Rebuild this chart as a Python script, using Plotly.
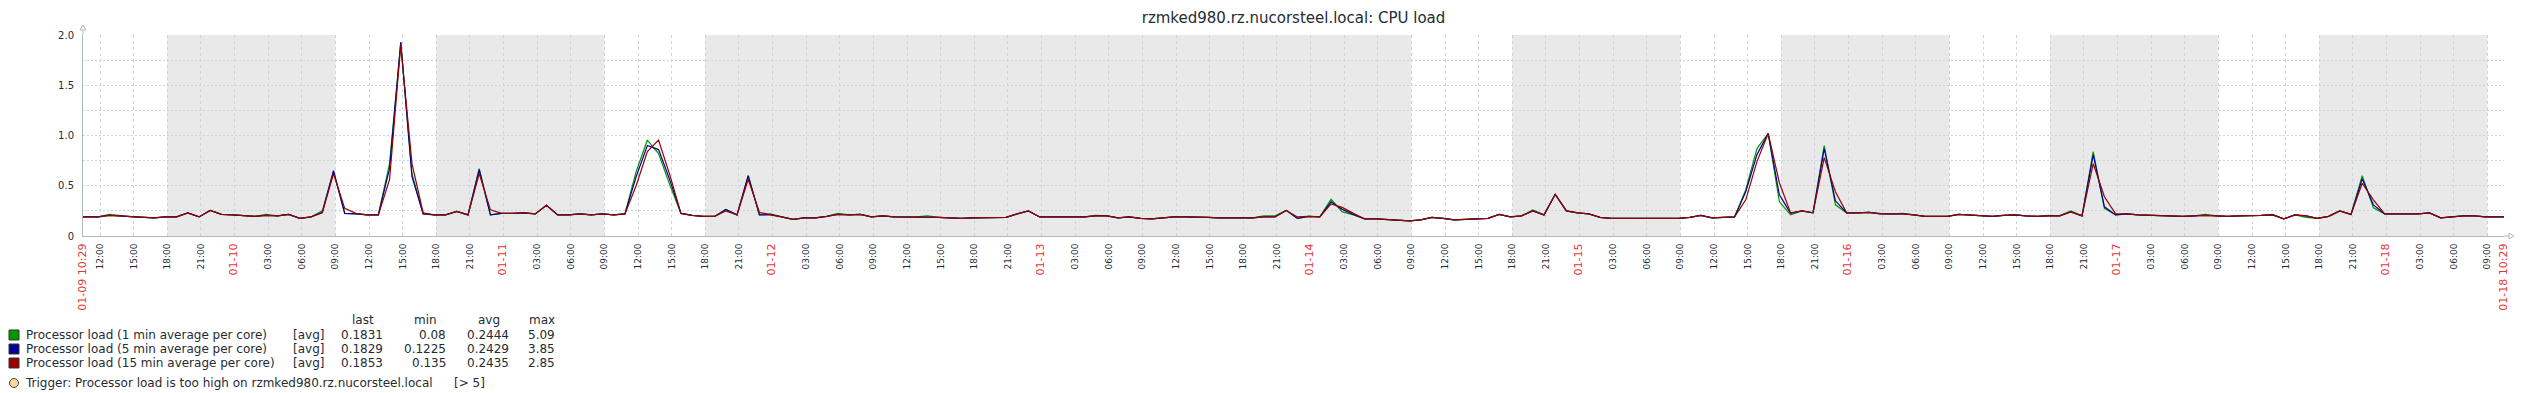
import plotly.graph_objects as go
import pandas as pd

# ---------------- data ----------------
title_text = "rzmked980.rz.nucorsteel.local: CPU load"
range_start = "2019-01-09 10:29"
range_end = "2019-01-18 10:29"
sample_start = "2019-01-09 09:50"   # hourly trend samples

load_1min = [
    0.19, 0.19, 0.19, 0.215, 0.20, 0.19, 0.185, 0.18, 0.19, 0.19,
    0.23, 0.19, 0.255, 0.215, 0.21, 0.20, 0.195, 0.215, 0.20, 0.215,
    0.175, 0.19, 0.25, 0.64, 0.225, 0.22, 0.21, 0.21, 0.72, 1.92,
    0.62, 0.22, 0.21, 0.21, 0.245, 0.21, 0.67, 0.21, 0.225, 0.225,
    0.23, 0.22, 0.305, 0.21, 0.21, 0.22, 0.21, 0.22, 0.21, 0.22,
    0.64, 0.955, 0.82, 0.51, 0.225, 0.205, 0.195, 0.195, 0.265, 0.21,
    0.60, 0.21, 0.22, 0.19, 0.165, 0.18, 0.18, 0.195, 0.225, 0.21,
    0.215, 0.19, 0.20, 0.19, 0.19, 0.19, 0.20, 0.185, 0.18, 0.175,
    0.18, 0.18, 0.18, 0.185, 0.22, 0.25, 0.19, 0.19, 0.185, 0.19,
    0.19, 0.205, 0.20, 0.18, 0.19, 0.175, 0.17, 0.18, 0.19, 0.19,
    0.19, 0.185, 0.18, 0.18, 0.18, 0.18, 0.20, 0.20, 0.255, 0.175,
    0.195, 0.19, 0.365, 0.24, 0.21, 0.17, 0.17, 0.165, 0.155, 0.15,
    0.16, 0.185, 0.175, 0.16, 0.165, 0.17, 0.175, 0.215, 0.19, 0.20,
    0.26, 0.21, 0.415, 0.25, 0.23, 0.22, 0.185, 0.175, 0.175, 0.175,
    0.17, 0.17, 0.175, 0.175, 0.185, 0.205, 0.18, 0.185, 0.19, 0.46,
    0.87, 1.02, 0.34, 0.21, 0.25, 0.23, 0.90, 0.31, 0.23, 0.23,
    0.235, 0.225, 0.22, 0.225, 0.21, 0.195, 0.195, 0.195, 0.215, 0.21,
    0.205, 0.195, 0.205, 0.21, 0.20, 0.195, 0.205, 0.20, 0.25, 0.20,
    0.84, 0.275, 0.21, 0.22, 0.21, 0.205, 0.20, 0.20, 0.195, 0.20,
    0.215, 0.20, 0.195, 0.20, 0.20, 0.205, 0.215, 0.17, 0.21, 0.185,
    0.175, 0.195, 0.25, 0.215, 0.60, 0.28, 0.22, 0.22, 0.22, 0.22,
    0.23, 0.18, 0.19, 0.20, 0.20, 0.19, 0.19, 0.19,
]

load_5min = [
    0.19, 0.19, 0.19, 0.205, 0.20, 0.19, 0.185, 0.18, 0.19, 0.19,
    0.23, 0.19, 0.255, 0.215, 0.21, 0.20, 0.195, 0.205, 0.20, 0.215,
    0.175, 0.19, 0.235, 0.65, 0.225, 0.22, 0.21, 0.21, 0.67, 1.93,
    0.59, 0.22, 0.21, 0.21, 0.245, 0.21, 0.66, 0.21, 0.225, 0.225,
    0.23, 0.22, 0.305, 0.21, 0.21, 0.22, 0.21, 0.22, 0.21, 0.22,
    0.59, 0.90, 0.86, 0.56, 0.225, 0.205, 0.195, 0.195, 0.265, 0.21,
    0.60, 0.21, 0.21, 0.19, 0.165, 0.18, 0.18, 0.195, 0.215, 0.21,
    0.215, 0.19, 0.20, 0.19, 0.19, 0.19, 0.19, 0.185, 0.18, 0.175,
    0.18, 0.18, 0.18, 0.185, 0.22, 0.25, 0.19, 0.19, 0.185, 0.19,
    0.19, 0.20, 0.20, 0.18, 0.19, 0.175, 0.17, 0.18, 0.19, 0.19,
    0.19, 0.185, 0.18, 0.18, 0.18, 0.18, 0.19, 0.19, 0.255, 0.175,
    0.195, 0.19, 0.34, 0.265, 0.215, 0.17, 0.17, 0.165, 0.155, 0.15,
    0.16, 0.185, 0.175, 0.16, 0.165, 0.17, 0.175, 0.215, 0.19, 0.20,
    0.25, 0.21, 0.415, 0.25, 0.23, 0.22, 0.185, 0.175, 0.175, 0.175,
    0.17, 0.17, 0.175, 0.175, 0.185, 0.205, 0.18, 0.185, 0.19, 0.44,
    0.81, 1.02, 0.41, 0.225, 0.25, 0.23, 0.87, 0.35, 0.23, 0.23,
    0.235, 0.22, 0.22, 0.22, 0.21, 0.195, 0.195, 0.195, 0.215, 0.21,
    0.205, 0.195, 0.205, 0.21, 0.20, 0.195, 0.20, 0.20, 0.24, 0.20,
    0.81, 0.29, 0.21, 0.22, 0.21, 0.205, 0.20, 0.20, 0.195, 0.20,
    0.205, 0.20, 0.195, 0.20, 0.20, 0.205, 0.21, 0.17, 0.21, 0.20,
    0.175, 0.195, 0.25, 0.215, 0.57, 0.31, 0.22, 0.22, 0.22, 0.22,
    0.23, 0.18, 0.19, 0.20, 0.20, 0.19, 0.19, 0.19,
]

load_15min = [
    0.19, 0.19, 0.19, 0.205, 0.20, 0.19, 0.185, 0.18, 0.19, 0.19,
    0.23, 0.19, 0.255, 0.215, 0.21, 0.20, 0.195, 0.205, 0.20, 0.215,
    0.175, 0.19, 0.23, 0.62, 0.275, 0.225, 0.21, 0.21, 0.56, 1.90,
    0.72, 0.23, 0.21, 0.21, 0.245, 0.21, 0.62, 0.26, 0.225, 0.225,
    0.23, 0.22, 0.305, 0.21, 0.21, 0.22, 0.21, 0.22, 0.21, 0.22,
    0.50, 0.84, 0.955, 0.61, 0.225, 0.205, 0.195, 0.195, 0.25, 0.21,
    0.565, 0.235, 0.21, 0.19, 0.165, 0.18, 0.18, 0.195, 0.215, 0.21,
    0.215, 0.19, 0.20, 0.19, 0.19, 0.19, 0.19, 0.185, 0.18, 0.175,
    0.18, 0.18, 0.18, 0.185, 0.22, 0.25, 0.19, 0.19, 0.185, 0.19,
    0.19, 0.20, 0.20, 0.18, 0.19, 0.175, 0.17, 0.18, 0.19, 0.19,
    0.19, 0.185, 0.18, 0.18, 0.18, 0.18, 0.19, 0.19, 0.255, 0.19,
    0.195, 0.19, 0.32, 0.285, 0.225, 0.17, 0.17, 0.165, 0.155, 0.15,
    0.16, 0.185, 0.175, 0.16, 0.165, 0.17, 0.175, 0.215, 0.19, 0.20,
    0.25, 0.21, 0.415, 0.25, 0.23, 0.22, 0.185, 0.175, 0.175, 0.175,
    0.17, 0.17, 0.175, 0.175, 0.185, 0.205, 0.18, 0.185, 0.19, 0.36,
    0.74, 1.02, 0.53, 0.23, 0.25, 0.23, 0.78, 0.44, 0.23, 0.23,
    0.235, 0.22, 0.22, 0.22, 0.21, 0.195, 0.195, 0.195, 0.215, 0.21,
    0.205, 0.195, 0.205, 0.21, 0.20, 0.195, 0.20, 0.20, 0.24, 0.20,
    0.72, 0.39, 0.22, 0.22, 0.21, 0.205, 0.20, 0.20, 0.195, 0.20,
    0.205, 0.20, 0.195, 0.20, 0.20, 0.205, 0.21, 0.17, 0.21, 0.20,
    0.175, 0.195, 0.25, 0.215, 0.525, 0.36, 0.22, 0.22, 0.22, 0.22,
    0.23, 0.18, 0.19, 0.20, 0.20, 0.19, 0.19, 0.19,
]

series_names = [
    "Processor load (1 min average per core)",
    "Processor load (5 min average per core)",
    "Processor load (15 min average per core)",
]
series_colors = ["#009900", "#000099", "#990000"]
stat_last = ["0.1831", "0.1829", "0.1853"]
stat_min = ["0.08", "0.1225", "0.135"]
stat_avg = ["0.2444", "0.2429", "0.2435"]
stat_max = ["5.09", "3.85", "2.85"]
trigger_text = "Trigger: Processor load is too high on rzmked980.rz.nucorsteel.local"
trigger_cond = "[> 5]"

# non-working periods (shaded)
nonwork_periods = [
    ("2019-01-09 18:00", "2019-01-10 09:00"),
    ("2019-01-10 18:00", "2019-01-11 09:00"),
    ("2019-01-11 18:00", "2019-01-14 09:00"),
    ("2019-01-14 18:00", "2019-01-15 09:00"),
    ("2019-01-15 18:00", "2019-01-16 09:00"),
    ("2019-01-16 18:00", "2019-01-17 09:00"),
    ("2019-01-17 18:00", "2019-01-18 09:00"),
]

y_tick_vals = [0, 0.25, 0.5, 0.75, 1.0, 1.25, 1.5, 1.75, 2.0]
y_tick_text = ["0", "", "0.5", "", "1.0", "", "1.5", "", "2.0"]

# ---------------- layout constants ----------------
W, H = 2534, 393
L, R, T, B = 83, 30, 35, 157
PW = W - L - R
PH = H - T - B
TXT = "#1F2C33"
RED = "#E33734"
GRID = "#CCD5D9"
AXIS = "#ACBBC2"
FONT = "DejaVu Sans"


def px(x):
    return (x - L) / PW


def py(y):
    return (H - B - y) / PH


times = pd.date_range(sample_start, periods=len(load_1min), freq="h")

fig = go.Figure()
for name, vals, col in zip(series_names, [load_1min, load_5min, load_15min], series_colors):
    fig.add_trace(go.Scatter(x=times, y=vals, mode="lines", name=name,
                             line=dict(color=col, width=1.2), showlegend=False,
                             hoverinfo="skip"))

# x ticks
t0 = pd.Timestamp(range_start)
t1 = pd.Timestamp(range_end)
tick_times = [t0]
t = pd.Timestamp("2019-01-09 12:00")
while t < t1:
    tick_times.append(t)
    t += pd.Timedelta(hours=3)
tick_times.append(t1)
DATE_SPAN = '<span style="color:%s;font-size:11px">%s</span>'
tick_text = []
for tt in tick_times:
    if tt == t0 or tt == t1:
        tick_text.append(DATE_SPAN % (RED, tt.strftime("%m-%d %H:%M")))
    elif tt.hour == 0:
        tick_text.append(DATE_SPAN % (RED, tt.strftime("%m-%d")))
    else:
        tick_text.append(tt.strftime("%H:%M"))

shapes = []
for a, b in nonwork_periods:
    shapes.append(dict(type="rect", xref="x", yref="paper", x0=a, x1=b, y0=0, y1=1,
                       fillcolor="#E9E9E9", line=dict(width=0), layer="below"))

# axis arrows
shapes.append(dict(type="line", xref="paper", yref="paper", x0=px(L), x1=px(L),
                   y0=py(T), y1=py(30), line=dict(color=AXIS, width=1)))
shapes.append(dict(type="path", xref="paper", yref="paper",
                   path="M %f %f L %f %f L %f %f Z" % (px(L - 3), py(30), px(L + 3), py(30), px(L), py(25)),
                   line=dict(color=AXIS, width=1), fillcolor="white"))
shapes.append(dict(type="line", xref="paper", yref="paper", x0=1, x1=px(W - R + 5),
                   y0=0, y1=0, line=dict(color=AXIS, width=1)))
shapes.append(dict(type="path", xref="paper", yref="paper",
                   path="M %f %f L %f %f L %f %f Z" % (px(W - R + 5), py(H - B - 3), px(W - R + 5), py(H - B + 3),
                                                      px(W - R + 10), py(H - B)),
                   line=dict(color=AXIS, width=1), fillcolor="white"))

annotations = []
LEG_FS = 12
# legend header
header_y = 320
for label, cx in zip(["last", "min", "avg", "max"], [363, 426, 489, 542]):
    annotations.append(dict(text=label, x=px(cx), y=py(header_y), xref="paper", yref="paper",
                            xanchor="center", yanchor="middle", showarrow=False,
                            font=dict(family=FONT, size=LEG_FS, color=TXT)))
row_ys = [335, 349, 363]
for i in range(3):
    yy = row_ys[i]
    shapes.append(dict(type="rect", xref="paper", yref="paper",
                       x0=px(9), x1=px(19), y0=py(yy - 5), y1=py(yy + 5),
                       fillcolor=series_colors[i], line=dict(color="#333333", width=1)))
    annotations.append(dict(text=series_names[i], x=px(24), y=py(yy), xref="paper", yref="paper",
                            xanchor="left", yanchor="middle", showarrow=False,
                            font=dict(family=FONT, size=LEG_FS, color=TXT)))
    annotations.append(dict(text="[avg]", x=px(291), y=py(yy), xref="paper", yref="paper",
                            xanchor="left", yanchor="middle", showarrow=False,
                            font=dict(family=FONT, size=LEG_FS, color=TXT)))
    for vals, rx in zip([stat_last, stat_min, stat_avg, stat_max], [385, 448, 511, 557]):
        annotations.append(dict(text=vals[i], x=px(rx), y=py(yy), xref="paper", yref="paper",
                                xanchor="right", yanchor="middle", showarrow=False,
                                font=dict(family=FONT, size=LEG_FS, color=TXT)))
# trigger line
trig_y = 383
shapes.append(dict(type="circle", xref="paper", yref="paper",
                   x0=px(9.5), x1=px(18.5), y0=py(trig_y - 4.5), y1=py(trig_y + 4.5),
                   fillcolor="#F9D99A", line=dict(color="#444444", width=1)))
annotations.append(dict(text=trigger_text, x=px(23), y=py(trig_y), xref="paper", yref="paper",
                        xanchor="left", yanchor="middle", showarrow=False,
                        font=dict(family=FONT, size=LEG_FS, color=TXT)))
annotations.append(dict(text=trigger_cond, x=px(452), y=py(trig_y), xref="paper", yref="paper",
                        xanchor="left", yanchor="middle", showarrow=False,
                        font=dict(family=FONT, size=LEG_FS, color=TXT)))

fig.update_layout(
    width=W, height=H,
    margin=dict(l=L, r=R, t=T, b=B),
    paper_bgcolor="white", plot_bgcolor="white",
    title=dict(text=title_text, x=0.5, xref="paper", xanchor="center", y=1 - 17.5 / H, yanchor="middle",
               font=dict(family=FONT, size=15, color=TXT)),
    showlegend=False,
    shapes=shapes,
    annotations=annotations,
    xaxis=dict(type="date", range=[t0, t1], tickmode="array", tickvals=tick_times, ticktext=tick_text,
               tickangle=-90, tickfont=dict(family=FONT, size=9, color=TXT),
               showgrid=True, gridcolor=GRID, griddash="3px,3px", gridwidth=1,
               showline=True, linecolor=AXIS, linewidth=1, ticks="", zeroline=False,
               ticklabelstandoff=3),
    yaxis=dict(range=[0, 2.0], tickmode="array", tickvals=y_tick_vals, ticktext=y_tick_text,
               tickfont=dict(family=FONT, size=10, color=TXT),
               showgrid=True, gridcolor=GRID, griddash="2px,2px", gridwidth=1,
               showline=True, linecolor=AXIS, linewidth=1, ticks="", zeroline=False,
               ticklabelstandoff=6),
)

fig.write_html("out.html")
